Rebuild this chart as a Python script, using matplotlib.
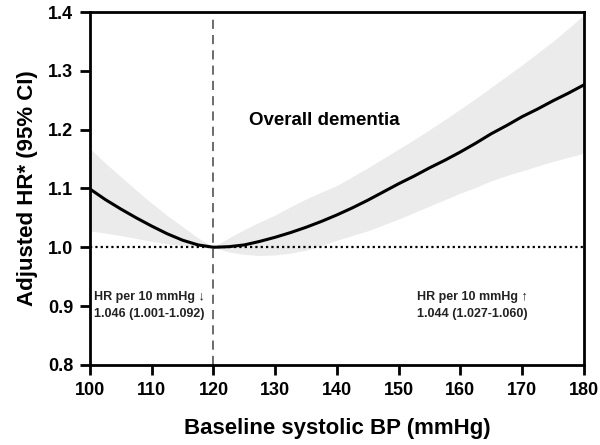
import matplotlib.pyplot as plt

plt.rcParams['font.family'] = ['Liberation Sans', 'DejaVu Sans']
plt.rcParams['font.weight'] = 'bold'

# systolic BP (mmHg) and adjusted hazard ratio with 95% CI
sbp = [100, 102.5, 105, 107.5, 110, 112.5, 115, 117.5, 120, 122.5, 125, 127.5, 130,
       132.5, 135, 137.5, 140, 142.5, 145, 147.5, 150, 152.5, 155, 157.5, 160,
       162.5, 165, 167.5, 170, 172.5, 175, 177.5, 180]
hr = [1.099, 1.081, 1.065, 1.050, 1.036, 1.023, 1.012, 1.004, 1.000, 1.001, 1.004,
      1.010, 1.017, 1.025, 1.034, 1.044, 1.055, 1.067, 1.080, 1.094, 1.108, 1.121,
      1.135, 1.148, 1.162, 1.177, 1.193, 1.207, 1.222, 1.235, 1.249, 1.262, 1.276]
ci_upper = [1.168, 1.143, 1.120, 1.097, 1.075, 1.054, 1.035, 1.016, 1.000, 1.016,
            1.030, 1.043, 1.055, 1.069, 1.082, 1.094, 1.105, 1.120, 1.135, 1.151,
            1.167, 1.183, 1.200, 1.217, 1.235, 1.253, 1.272, 1.291, 1.310, 1.330,
            1.350, 1.372, 1.395]
ci_lower = [1.028, 1.024, 1.020, 1.015, 1.010, 1.006, 1.003, 1.001, 1.000, 0.992,
            0.988, 0.986, 0.987, 0.990, 0.995, 1.003, 1.012, 1.020, 1.028, 1.038,
            1.048, 1.059, 1.070, 1.081, 1.092, 1.102, 1.113, 1.122, 1.130, 1.138,
            1.146, 1.153, 1.160]

xticks = [100, 110, 120, 130, 140, 150, 160, 170, 180]
yticks = [0.8, 0.9, 1.0, 1.1, 1.2, 1.3, 1.4]

fig = plt.figure(figsize=(6, 4.45), dpi=100)
ax = fig.add_axes([0.15, 0.18, 0.823, 0.793])

ax.fill_between(sbp, ci_lower, ci_upper, color='#ebebeb', lw=0, zorder=1)
ax.plot(sbp, hr, color='black', lw=2.2, zorder=3)
ax.axhline(1.0, color='black', lw=1.6, ls=(0, (1, 1.4)), zorder=2)
ax.axvline(120, color='#444444', lw=1.1, ls=(0, (6, 4)), zorder=2)

ax.text(138, 1.215, 'Overall dementia', ha='center', va='center', fontsize=13.5, fontweight='bold')
note = dict(fontsize=9, fontweight='bold', color='#222222', va='center')
ax.text(100.6, 0.915, 'HR per 10 mmHg \u2193', ha='left', **note)
ax.text(100.6, 0.887, '1.046 (1.001-1.092)', ha='left', **note)
ax.text(162, 0.915, 'HR per 10 mmHg \u2191', ha='center', **note)
ax.text(162, 0.887, '1.044 (1.027-1.060)', ha='center', **note)

ax.set_xlim(100, 180)
ax.set_ylim(0.8, 1.4)
ax.set_xticks(xticks)
ax.set_yticks(yticks)
ax.set_yticklabels([f'{v:.1f}' for v in yticks])
ax.tick_params(direction='out', length=7, width=2, labelsize=13, pad=5)
for s in ax.spines.values():
    s.set_linewidth(2)

ax.set_xlabel('Baseline systolic BP (mmHg)', fontsize=16, fontweight='bold', labelpad=14)
ax.set_ylabel('Adjusted HR* (95% CI)', fontsize=16, fontweight='bold', labelpad=7)

fig.savefig('out.png', dpi=100)
